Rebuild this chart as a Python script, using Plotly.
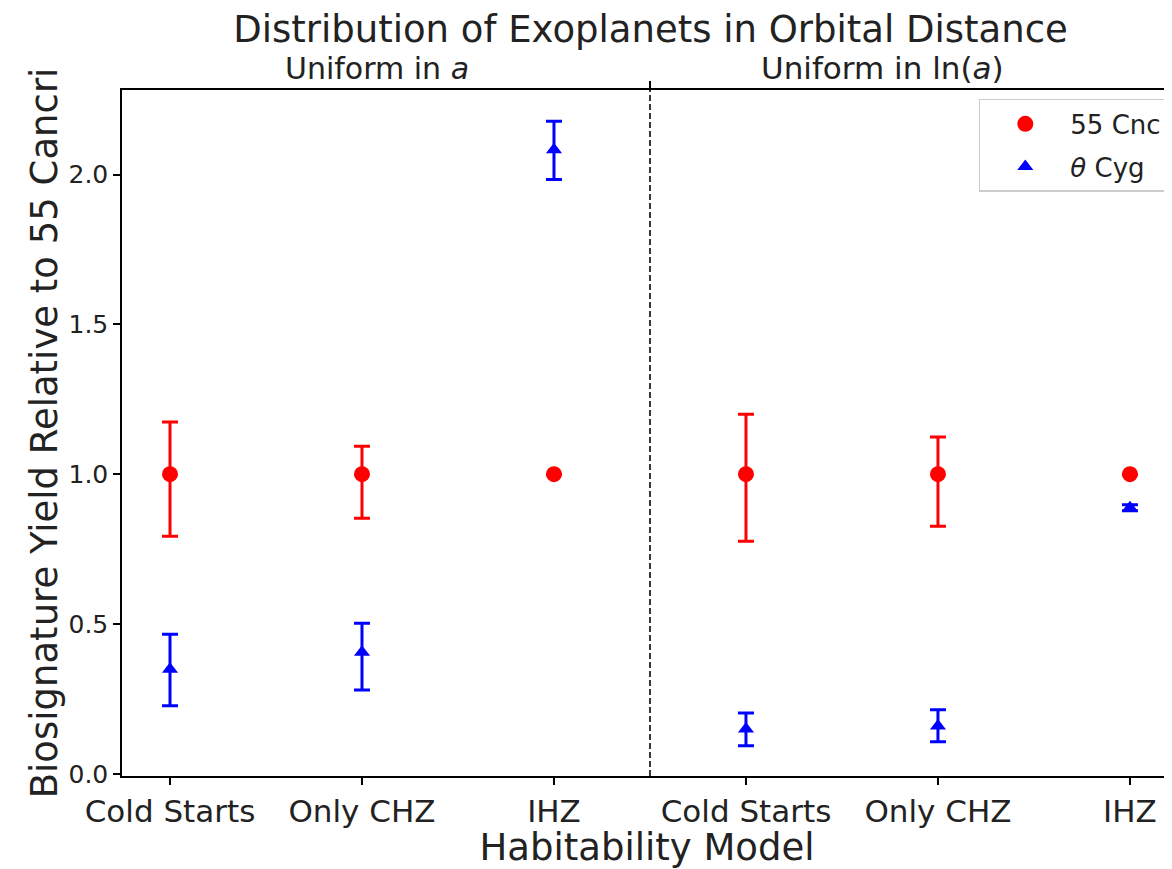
import plotly.graph_objects as go

categories = ["Cold Starts", "Only CHZ", "IHZ", "Cold Starts", "Only CHZ", "IHZ"]
cnc_values = [1.0, 1.0, 1.0, 1.0, 1.0, 1.0]
cnc_err_plus = [0.174, 0.093, 0.0, 0.200, 0.124, 0.0]
cnc_err_minus = [0.207, 0.147, 0.0, 0.224, 0.174, 0.0]
cyg_values = [0.349, 0.406, 2.083, 0.150, 0.160, 0.888]
cyg_err_plus = [0.117, 0.097, 0.095, 0.053, 0.054, 0.010]
cyg_err_minus = [0.122, 0.126, 0.100, 0.056, 0.053, 0.010]
panel_labels = ["Uniform in <i>a</i>", "Uniform in ln(<i>a</i>)"]

xpos = list(range(len(categories)))
FONT = "DejaVu Sans"

fig = go.Figure()
fig.add_trace(go.Scatter(
    x=xpos, y=cnc_values, mode="markers", name="55 Cnc", legendgroup="cnc",
    marker=dict(symbol="circle", size=16, color="#ff0000"),
    error_y=dict(type="data", symmetric=False, array=cnc_err_plus, arrayminus=cnc_err_minus,
                 color="#ff0000", thickness=3, width=8),
))
fig.add_trace(go.Scatter(
    x=xpos, y=cyg_values, mode="markers", name="<i>θ</i> Cyg", legendgroup="cyg",
    marker=dict(symbol="triangle-up", size=14, color="#0000ff"),
    error_y=dict(type="data", symmetric=False, array=cyg_err_plus, arrayminus=cyg_err_minus,
                 color="#0000ff", thickness=3, width=8),
))
# empty trace to activate top axis
fig.add_trace(go.Scatter(x=[], y=[], xaxis="x2", showlegend=False, hoverinfo="skip"))

fig.add_shape(type="line", x0=2.5, x1=2.5, y0=0, y1=1, xref="x", yref="paper",
              line=dict(color="#222", width=1.8, dash="6px,3px"))

fig.add_annotation(x=1.08, y=1.0, xref="x", yref="paper", yanchor="bottom", yshift=2,
                   text=panel_labels[0], showarrow=False, font=dict(family=FONT, size=30, color="#222"))
fig.add_annotation(x=3.71, y=1.0, xref="x", yref="paper", yanchor="bottom", yshift=2,
                   text=panel_labels[1], showarrow=False, font=dict(family=FONT, size=31, color="#222"))

xr = [-0.25, 5.219]
fig.update_layout(
    width=1164, height=861,
    margin=dict(l=114, r=0, t=82, b=93),
    paper_bgcolor="white", plot_bgcolor="white",
    font=dict(family=FONT, color="black"),
    title=dict(text="Distribution of Exoplanets in Orbital Distance", x=0.552, xanchor="center",
               y=0.976, yanchor="middle", font=dict(family=FONT, size=37, color="#222")),
    xaxis=dict(range=xr, tickvals=xpos, ticktext=categories, showgrid=False, zeroline=False,
               showline=True, linecolor="black", linewidth=1.5, mirror=False,
               ticks="outside", ticklen=7, tickwidth=1.5, tickcolor="black",
               tickfont=dict(family=FONT, size=31, color="#222"),
               title=dict(text="Habitability Model", font=dict(family=FONT, size=37, color="#222"), standoff=2)),
    xaxis2=dict(range=xr, overlaying="x", side="top", tickvals=[2.5], ticktext=[""],
                showgrid=False, zeroline=False, showline=True, linecolor="black", linewidth=1.5,
                ticks="outside", ticklen=7, tickwidth=1.5, tickcolor="black"),
    yaxis=dict(range=[-0.007, 2.282], tickvals=[0.0, 0.5, 1.0, 1.5, 2.0],
               ticktext=["0.0", "0.5", "1.0", "1.5", "2.0"], showgrid=False, zeroline=False,
               showline=True, linecolor="black", linewidth=1.5, mirror=False,
               ticks="outside", ticklen=7, tickwidth=1.5, tickcolor="black",
               tickfont=dict(family=FONT, size=25, color="#222"),
               title=dict(text="Biosignature Yield Relative to 55 Cancri",
                          font=dict(family=FONT, size=37, color="#222"), standoff=0)),
    legend=dict(x=0.996, y=0.987, xanchor="right", yanchor="top",
                bgcolor="white", bordercolor="#cccccc", borderwidth=1.5,
                font=dict(family=FONT, size=26, color="#222"), itemwidth=80,
                tracegroupgap=6),
    showlegend=True,
)

fig.write_html("out.html")
